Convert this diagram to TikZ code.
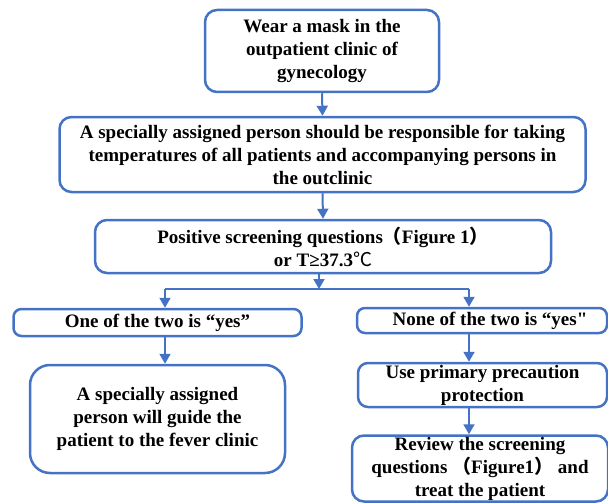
\documentclass[tikz,border=0pt]{standalone}
\usepackage{fontspec}
\setmainfont{Liberation Serif}[Ligatures=TeXOff]
\newfontfamily\cjk{Noto Sans CJK SC}
\usetikzlibrary{arrows.meta}
\definecolor{flowblue}{RGB}{68,114,196}
\newcommand{\lp}{{\cjk（}}
\newcommand{\rp}{{\cjk）}}
\newcommand{\degc}{{\cjk\mdseries ℃}}
\begin{document}
\begin{tikzpicture}[x=1pt,y=-1pt,
  stepbox/.style={draw=flowblue, line width=2.5pt, rounded corners=12pt,
    inner sep=0pt, align=center, font=\fontsize{19}{23}\selectfont\bfseries},
  arr/.style={draw=flowblue, line width=2pt, -{Triangle[length=10pt,width=11pt]}},
  link/.style={draw=flowblue, line width=2pt}]
\useasboundingbox (0,0) rectangle (608,503);

% boxes
\node[stepbox, minimum width=234pt, minimum height=82pt] (b1) at (322,51)
  {Wear a mask in the\\outpatient clinic of\\gynecology};
\node[stepbox, minimum width=526pt, minimum height=75pt] (b2) at (322.5,154.5)
  {A specially assigned person should be responsible for taking\\temperatures of all patients and accompanying persons in\\the outclinic};
\node[stepbox, minimum width=456pt, minimum height=53pt] (b3) at (323,246.5)
  {Positive screening questions\lp Figure 1\rp\\or T≥37.3\degc};
\node[stepbox, rounded corners=8pt, minimum width=288pt, minimum height=27pt] (b4) at (157.5,322.5)
  {One of the two is “yes”};
\node[stepbox, rounded corners=8pt, minimum width=250pt, minimum height=25pt] (b5) at (482,320.5)
  {\hspace*{16pt}None of the two is “yes"};
\node[stepbox, rounded corners=20pt, minimum width=255pt, minimum height=108pt] (b6) at (157.5,419)
  {A specially assigned\\person will guide the\\patient to the fever clinic};
\node[stepbox, rounded corners=10pt, minimum width=249pt, minimum height=44pt] (b7) at (482.5,385)
  {Use primary precaution\\protection};
\node[stepbox, rounded corners=12pt, minimum width=256pt, minimum height=66pt] (b8) at (480,468.5)
  {Review the screening\\questions \lp Figure1\rp\ and\\treat the patient};

% split points
\coordinate (split) at (319,289);
\coordinate (sl) at (165,289);
\coordinate (sr) at (469,289);

% connectors
\draw[arr] (b1.south) -- (b2.north);
\draw[arr] (b2.south) -- (b3.north);
\draw[arr] (split |- b3.south) -- (split);
\draw[link] (sl) -- (sr);
\draw[arr] (sl) -- (sl |- b4.north);
\draw[arr] (sr) -- (sr |- b5.north);
\draw[arr] (sl |- b4.south) -- (sl |- b6.north);
\draw[arr] (sr |- b5.south) -- (sr |- b7.north);
\draw[arr] (sr |- b7.south) -- (sr |- b8.north);
\end{tikzpicture}
\end{document}
